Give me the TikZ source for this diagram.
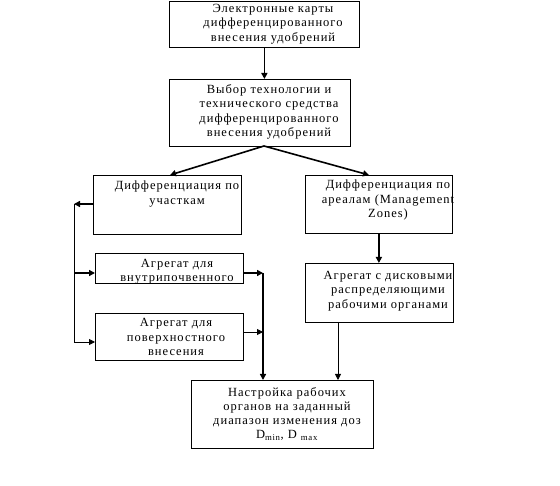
\documentclass[tikz,border=0pt]{standalone}
\usepackage{fontspec}
\setmainfont[LetterSpace=8]{Liberation Serif}
\usetikzlibrary{arrows.meta,calc}
\begin{document}
\begin{tikzpicture}[x=1pt,y=-1pt,
  box/.style={draw,line width=0.8pt,inner sep=0pt,anchor=north west},
  txt/.style={align=center,inner sep=0pt,font=\fontsize{12.5}{14.3}\selectfont},
  thk/.style={line width=1.6pt,-{Triangle[length=6pt,width=6pt]}},
  thn/.style={line width=0.8pt,-{Triangle[length=6pt,width=6pt]}},
  lnk/.style={line width=1.6pt},
  lnkthin/.style={line width=0.8pt}]
\useasboundingbox (0,0) rectangle (560,486);
% boxes
\node[box,minimum width=190pt,minimum height=46pt] (b1) at (169,1) {};
\node[box,minimum width=181pt,minimum height=67pt] (b2) at (169,79) {};
\node[box,minimum width=148pt,minimum height=59pt] (b3) at (93,175) {};
\node[box,minimum width=147pt,minimum height=58pt] (b4) at (305,175) {};
\node[box,minimum width=148pt,minimum height=30pt] (b5) at (95,253) {};
\node[box,minimum width=148pt,minimum height=47pt] (b6) at (95,313) {};
\node[box,minimum width=148pt,minimum height=59pt] (b7) at (305,263) {};
\node[box,minimum width=182pt,minimum height=68pt] (b8) at (191,380) {};
% texts
\node[txt] (t1) at (273,24) {Электронные карты\\дифференцированного\\внесения удобрений};
\node[txt] (t2) at (269,112) {Выбор технологии и\\технического средства\\дифференцированного\\внесения удобрений};
\node[txt] (t3) at (177,194) {Дифференциация по\\участкам};
\node[txt] (t4) at (388,200) {Дифференциация по\\ареалам (Management\\Zones)};
\node[txt] (t5) at (177,272) {Агрегат для\\внутрипочвенного};
\node[txt] (t6) at (176,337) {Агрегат для\\поверхностного\\внесения};
\node[txt] (t7) at (388,291) {Агрегат с дисковыми\\распределяющими\\рабочими органами};
\node[txt] (t8) at (287,414) {Настройка рабочих\\органов на заданный\\диапазон изменения доз\\D\textsubscript{min}, D \textsubscript{max}};
% coordinates
\coordinate (s2) at (264,146);
\coordinate (a3) at (170,175);
\coordinate (a4) at (369,175);
\coordinate (lft) at (74,204);
\coordinate (l5) at (74,273);
\coordinate (l6) at (74,342);
\coordinate (r5) at (263,273);
\coordinate (r6) at (263,332);
\coordinate (r7) at (338,322);
% connectors
\draw[thk] (b1.south) -- (b1.south |- b2.north);
\draw[thk] (s2) -- (a3);
\draw[thk] (s2) -- (a4);
\draw[thk] (b4.south) -- (b4.south |- b7.north);
\draw[thk] (b3.west |- lft) -- (lft);
\draw[lnkthin] (lft) -- (l6);
\draw[thk] (l5) -- (l5 -| b5.west);
\draw[thn] (l6) -- (l6 -| b6.west);
\draw[thk] (r5 -| b5.east) -- (r5);
\draw[thn] (r6 -| b6.east) -- (r6);
\draw[thk] (r5) -- (r5 |- b8.north);
\draw[thn] (r7) -- (r7 |- b8.north);
\end{tikzpicture}
\end{document}
